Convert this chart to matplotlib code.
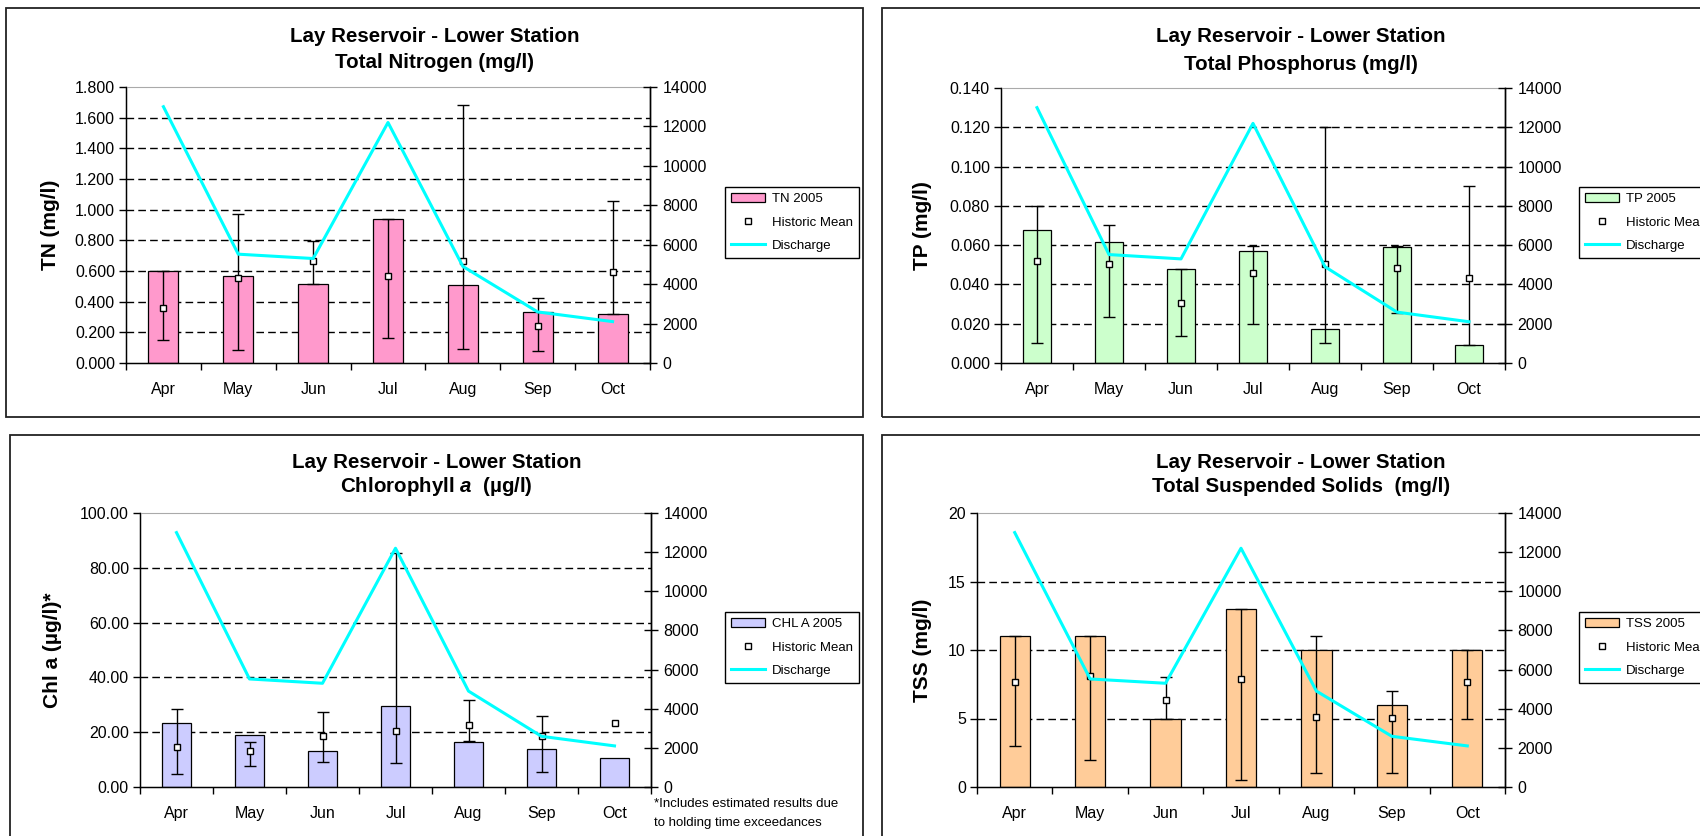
import numpy as np
import matplotlib
matplotlib.use("Agg")
import matplotlib.pyplot as plt
from matplotlib.patches import Rectangle, Patch
from matplotlib.lines import Line2D
from matplotlib.ticker import FixedLocator, FormatStrFormatter

plt.rcParams['font.family'] = ['Liberation Sans', 'DejaVu Sans']
plt.rcParams['mathtext.fontset'] = 'custom'
plt.rcParams['mathtext.rm'] = 'Liberation Sans:bold'
plt.rcParams['mathtext.it'] = 'Liberation Sans:italic:bold'

# ---------------- data ----------------
months = ['Apr', 'May', 'Jun', 'Jul', 'Aug', 'Sep', 'Oct']
discharge = [13000, 5520, 5300, 12200, 4900, 2590, 2100]

tn_2005 = [0.603, 0.570, 0.518, 0.941, 0.510, 0.330, 0.317]
tn_mean = [0.360, 0.553, 0.664, 0.570, 0.666, 0.241, 0.596]
tn_min = [0.152, 0.085, 0.518, 0.160, 0.093, 0.076, 0.317]
tn_max = [0.603, 0.969, 0.798, 0.941, 1.683, 0.427, 1.054]

tp_2005 = [0.0677, 0.0618, 0.0477, 0.0570, 0.0173, 0.0591, 0.0093]
tp_mean = [0.0520, 0.0506, 0.0308, 0.0460, 0.0506, 0.0486, 0.0433]
tp_min = [0.0100, 0.0232, 0.0139, 0.0200, 0.0100, 0.0257, 0.0093]
tp_max = [0.0800, 0.0703, 0.0477, 0.0596, 0.1200, 0.0596, 0.0902]

chl_2005 = [23.2, 19.1, 13.0, 29.4, 16.3, 13.9, 10.6]
chl_mean = [14.5, 13.2, 18.5, 20.4, 22.8, 18.5, 23.2]
chl_min = [4.9, 7.7, 9.1, 8.8, 16.8, 5.4, np.nan]
chl_max = [28.3, 16.3, 27.3, 85.4, 31.7, 26.0, np.nan]

tss_2005 = [11, 11, 5, 13, 10, 6, 10]
tss_mean = [7.68, 8.07, 6.34, 7.90, 5.12, 5.02, 7.68]
tss_min = [3, 2, 5, 0.5, 1, 1, 5]
tss_max = [11, 11, 8, 13, 11, 7, 10]

W, H = 1700, 836
fig = plt.figure(figsize=(W / 100, H / 100), dpi=100)


def fx(x):
    return x / W


def fy(y):
    return 1 - y / H


def panel_box(x0, y0, x1, y1):
    fig.patches.append(Rectangle((fx(x0), fy(y1)), fx(x1) - fx(x0), fy(y0) - fy(y1),
                                 transform=fig.transFigure, fill=False,
                                 edgecolor='#222222', linewidth=1.3))


def make_panel(box, ax_px, title1, title2, ylabel, ylab_x, vals, mean, vmin, vmax,
               ymax, ystep, fmt, color, label, leg_px, title_dy):
    bx0, by0, bx1, by1 = box
    panel_box(bx0, by0, bx1, by1)
    l, r, t, b = ax_px
    ax = fig.add_axes([fx(l), fy(b), fx(r) - fx(l), fy(t) - fy(b)])
    n = len(months)
    x = np.arange(n)
    ax.set_xlim(-0.5, n - 0.5)
    ax.set_ylim(0, ymax)
    ax.set_axisbelow(True)
    yt = np.arange(0, ymax + ystep / 2, ystep)
    ax.yaxis.set_major_locator(FixedLocator(yt))
    ax.yaxis.set_major_formatter(FormatStrFormatter(fmt))
    for v in yt[1:-1]:
        ax.axhline(v, color='black', linewidth=1.0, linestyle=(0, (5.5, 3)), zorder=0.5)
    ax.axhline(yt[-1], color='#888888', linewidth=1.2, linestyle=(0, (5.5, 3)), zorder=0.5)
    ax.spines['top'].set_color('#aaaaaa')
    for s in ['left', 'right', 'bottom']:
        ax.spines[s].set_linewidth(1.0)
    ax.bar(x, vals, width=0.4, color=color, edgecolor='black', linewidth=0.9, zorder=2)
    mean_a = np.array(mean, dtype=float)
    lo = mean_a - np.array(vmin, dtype=float)
    hi = np.array(vmax, dtype=float) - mean_a
    ok = np.isfinite(lo) & np.isfinite(hi)
    ax.errorbar(x[ok], mean_a[ok], yerr=[lo[ok], hi[ok]], fmt='none', ecolor='black',
                elinewidth=1.0, capsize=4.5, capthick=1.0, zorder=3)
    ax.plot(x, mean_a, linestyle='none', marker='s', markersize=5, markerfacecolor='white',
            markeredgecolor='black', markeredgewidth=1.0, zorder=4)
    ax.set_xticks(np.arange(-0.5, n, 1.0))
    ax.set_xticklabels([])
    ax.set_xticks(x, minor=True)
    ax.set_xticklabels(months, minor=True)
    ax.tick_params(axis='x', which='major', direction='out', length=5, width=1)
    ax.tick_params(axis='x', which='minor', length=0, pad=14, labelsize=11.5)
    ax.tick_params(axis='y', direction='out', length=5, width=1, pad=3, labelsize=11.5)

    ax2 = ax.twinx()
    ax2.set_ylim(0, 14000)
    ax2.yaxis.set_major_locator(FixedLocator(np.arange(0, 14001, 2000)))
    ax2.plot(x, discharge, color='#00FFFF', linewidth=2.2, zorder=5)
    ax2.tick_params(axis='y', direction='inout', length=10, width=1, pad=4, labelsize=11.5)
    ax2.spines['top'].set_visible(False)
    ax2.spines['right'].set_linewidth(1.0)

    cx = (bx0 + min(bx1, 1720)) / 2
    fig.text(fx(cx), fy(t - 51), title1, ha='center', va='center', fontsize=14.8,
             fontweight='bold')
    fig.text(fx(cx), fy(t - 51 + title_dy), title2, ha='center', va='center', fontsize=14.8,
             fontweight='bold')
    fig.text(fx(ylab_x), fy((t + b) / 2), ylabel, ha='center', va='center', rotation=90,
             fontsize=15, fontweight='bold')

    handles = [Patch(facecolor=color, edgecolor='black', linewidth=0.9),
               Line2D([], [], linestyle='none', marker='s', markersize=5,
                      markerfacecolor='white', markeredgecolor='black', markeredgewidth=1.0),
               Line2D([], [], color='#00FFFF', linewidth=2.2)]
    lx0, ly0 = leg_px
    leg = fig.legend(handles, [label, 'Historic Mean', 'Discharge'],
                     loc='upper left', bbox_to_anchor=(fx(lx0), fy(ly0)),
                     bbox_transform=fig.transFigure, fontsize=9.5, frameon=True,
                     fancybox=False, framealpha=1, edgecolor='black',
                     handlelength=2.6, handleheight=0.7, handletextpad=0.5,
                     labelspacing=0.85, borderpad=0.45, borderaxespad=0)
    leg.get_frame().set_linewidth(1.0)
    return ax


make_panel((6, 8, 863, 417), (126, 650, 87, 363),
           'Lay Reservoir - Lower Station', 'Total Nitrogen (mg/l)', 'TN (mg/l)', 51,
           tn_2005, tn_mean, tn_min, tn_max, 1.8, 0.2, '%.3f', '#FF99CC', 'TN 2005',
           (725, 187), 27)
make_panel((882, 8, 1720, 417), (1001, 1505, 88, 363),
           'Lay Reservoir - Lower Station', 'Total Phosphorus (mg/l)', 'TP (mg/l)', 923,
           tp_2005, tp_mean, tp_min, tp_max, 0.14, 0.02, '%.3f', '#CCFFCC', 'TP 2005',
           (1579, 187), 27)
make_panel((10, 435, 863, 900), (140, 651, 513, 787),
           'Lay Reservoir - Lower Station', r'Chlorophyll $\mathit{a}$  (µg/l)',
           'Chl a (µg/l)*', 53,
           chl_2005, chl_mean, chl_min, chl_max, 100, 20, '%.2f', '#CCCCFF', 'CHL A 2005',
           (725, 612), 25)
make_panel((882, 435, 1720, 900), (977, 1505, 513, 787),
           'Lay Reservoir - Lower Station', 'Total Suspended Solids  (mg/l)', 'TSS (mg/l)', 923,
           tss_2005, tss_mean, tss_min, tss_max, 20, 5, '%d', '#FFCC99', 'TSS 2005',
           (1579, 612), 25)

fig.text(fx(654), fy(804), '*Includes estimated results due', ha='left', va='center',
         fontsize=9.5)
fig.text(fx(654), fy(823), 'to holding time exceedances', ha='left', va='center',
         fontsize=9.5)

fig.savefig('out.png', dpi=100)
